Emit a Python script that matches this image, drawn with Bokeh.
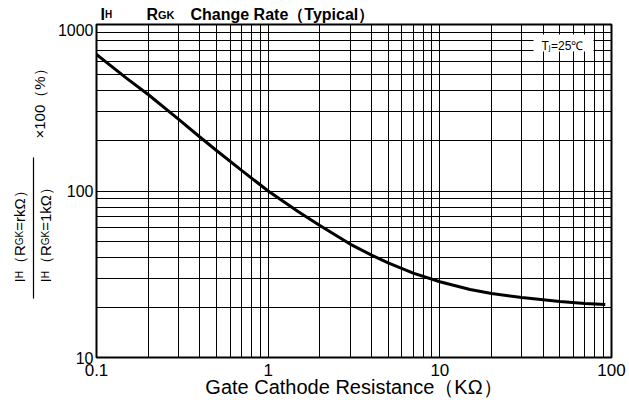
from math import pi
from bokeh.plotting import figure
from bokeh.layouts import column, row
from bokeh.models import FixedTicker, Label, BoxAnnotation, Range1d
from bokeh.embed import file_html
from bokeh.resources import INLINE

# ---- data ----
resistance_k = [0.1, 0.15, 0.2, 0.3, 0.4, 0.5, 0.7, 1, 1.5, 2, 3, 4, 5, 7, 10, 15, 20, 30, 50, 70, 92]
change_rate = [660, 475, 380, 270, 211, 175, 133, 100, 75, 62, 48, 41.2, 37.0, 32.1, 28.5, 25.6, 24.2, 22.9, 21.7, 21.1, 20.8]
x_ticks = [0.1, 1, 10, 100]
x_tick_labels = ["0.1", "1", "10", "100"]
y_ticks = [10, 100, 1000]
y_tick_labels = ["10", "100", "1000"]
x_minor = [m * 10.0 ** e for e in (-1, 0, 1) for m in range(2, 10)]
y_minor = [m * 10.0 ** e for e in (1, 2) for m in range(2, 10)]

FONT = "Liberation Sans"

W, H = 629, 412
TITLE_H = 23
LEFT_W = 54
BODY_H = H - TITLE_H
B_TOP, B_BOTTOM = 1, 55          # borders of the main chart (shared by the left strip)
FRAME_BOTTOM = H - B_BOTTOM      # page y of the plot frame's bottom edge


def blank(width, height, top=0, bottom=0):
    f = figure(width=width, height=height, x_range=Range1d(0, width), y_range=Range1d(0, height),
               title=None, output_backend="svg", toolbar_location=None,
               x_axis_location=None, y_axis_location=None,
               min_border=0, min_border_left=0, min_border_right=0,
               min_border_top=top, min_border_bottom=bottom)
    f.outline_line_color = None
    f.background_fill_color = "white"
    f.border_fill_color = "white"
    f.grid.visible = False
    return f


def seg(fig, text, x, y, size, angle=0.0, bold=False):
    fig.add_layout(Label(x=x, y=y, x_units="screen", y_units="screen", text=text,
                         text_font=FONT, text_font_size=f"{size}px",
                         text_font_style="bold" if bold else "normal",
                         angle=angle, text_align="left", text_baseline="alphabetic",
                         text_color="black"))


# ---- title strip ----
t = blank(W, TITLE_H)
TB = TITLE_H - 14
seg(t, "I", 100, TB, 16, bold=True)
seg(t, "H", 104.5, TB, 10, bold=True)
seg(t, "R", 146, TB, 16, bold=True)
seg(t, "GK", 157.5, TB, 11, bold=True)
seg(t, "Change Rate（Typical）", 190, TB, 16, bold=True)

# ---- left strip: rotated fraction used as the y-axis title ----
# its frame is aligned with the chart frame, so y is measured up from page y = FRAME_BOTTOM
lft = blank(LEFT_W, BODY_H, top=B_TOP, bottom=B_BOTTOM)
A = pi / 2
offs = [0, 4.2, 11.4, 37.2, 51.7]
num = ["I", "H", "（R", "GK", "=rkΩ）"]
den = ["I", "H", "（R", "GK", "=1kΩ）"]
sizes = [15, 10, 15, 10, 15]
start = FRAME_BOTTOM - 282
for txt, o, s in zip(num, offs, sizes):
    seg(lft, txt, 18.5, start + o, s, angle=A)
for txt, o, s in zip(den, offs, sizes):
    seg(lft, txt, 45, start + o, s, angle=A)
lft.add_layout(BoxAnnotation(left=32.4, right=33.6, bottom=FRAME_BOTTOM - 298, top=FRAME_BOTTOM - 157,
                             left_units="screen", right_units="screen",
                             bottom_units="screen", top_units="screen",
                             fill_color="black", fill_alpha=1, line_color=None))
seg(lft, "×100（%）", 38.5, FRAME_BOTTOM - 138, 15, angle=A)

# ---- main chart ----
p = figure(width=W - LEFT_W, height=BODY_H, x_axis_type="log", y_axis_type="log",
           x_range=(0.1, 100), y_range=(10, 1000), title=None,
           output_backend="svg", toolbar_location=None,
           min_border_left=42, min_border_right=18, min_border_top=B_TOP, min_border_bottom=B_BOTTOM)
p.background_fill_color = "white"
p.border_fill_color = "white"
p.outline_line_color = "black"
p.outline_line_width = 2

p.xgrid.ticker = FixedTicker(ticks=x_ticks, minor_ticks=x_minor)
p.ygrid.ticker = FixedTicker(ticks=y_ticks, minor_ticks=y_minor)
for g in (p.xgrid, p.ygrid):
    g.grid_line_color = "black"
    g.grid_line_width = 1
    g.minor_grid_line_color = "black"
    g.minor_grid_line_width = 1

p.xaxis.ticker = FixedTicker(ticks=x_ticks)
p.yaxis.ticker = FixedTicker(ticks=y_ticks)
p.xaxis.major_label_overrides = {tk: s for tk, s in zip(x_ticks, x_tick_labels)}
p.yaxis.major_label_overrides = {tk: s for tk, s in zip(y_ticks, y_tick_labels)}
for ax in (p.xaxis, p.yaxis):
    ax.axis_line_color = None
    ax.major_tick_line_color = None
    ax.minor_tick_line_color = None
    ax.major_tick_out = 0
    ax.major_tick_in = 0
    ax.major_label_text_font = FONT
    ax.major_label_text_color = "black"
p.xaxis.major_label_text_font_size = "17px"
p.yaxis.major_label_text_font_size = "16px"
p.xaxis.major_label_standoff = 6
p.yaxis.major_label_standoff = 3
p.xaxis.axis_label = "Gate Cathode Resistance（KΩ）"
p.xaxis.axis_label_text_font = FONT
p.xaxis.axis_label_text_font_size = "20px"
p.xaxis.axis_label_text_font_style = "normal"
p.xaxis.axis_label_text_color = "black"
p.xaxis.axis_label_standoff = -3

p.line(resistance_k, change_rate, line_width=3, line_color="black")

# condition box (screen units relative to the plot frame)
p.add_layout(BoxAnnotation(left=437, right=497, bottom=306, top=323,
                           left_units="screen", right_units="screen",
                           bottom_units="screen", top_units="screen",
                           fill_color="white", fill_alpha=1, line_color=None))
seg(p, "T", 445, 312, 12)
seg(p, "j", 452.3, 310.5, 8)
seg(p, "=25℃", 454.5, 312, 12)

layout = column(t, row(lft, p))
open("out.html", "w").write(file_html(layout, INLINE))
